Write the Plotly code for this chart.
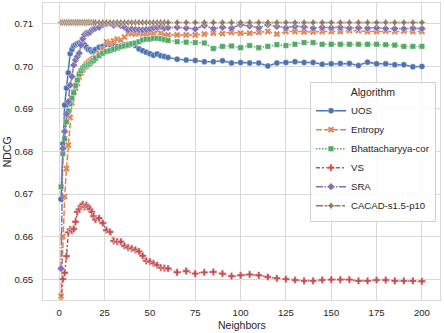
import plotly.graph_objects as go

neighbors = list(range(1, 21)) + list(range(22, 61, 2)) + list(range(65, 201, 5))

uos = [0.6688, 0.6818, 0.6909, 0.6949, 0.6985, 0.7030, 0.7040, 0.7048, 0.7051, 0.7053,
       0.7055, 0.7055, 0.7054, 0.7050, 0.7045, 0.7040, 0.7039, 0.7035, 0.7036, 0.7040,
       0.7045, 0.7047, 0.7052, 0.7051, 0.7050, 0.7047, 0.7048, 0.7050, 0.7052, 0.7053,
       0.7049, 0.7041, 0.7037, 0.7033, 0.7030, 0.7026, 0.7029, 0.7025, 0.7023, 0.7021,
       0.7017, 0.7015, 0.7014, 0.7011, 0.7011, 0.7013, 0.7008, 0.7009, 0.7008, 0.7008,
       0.7001, 0.7008, 0.7009, 0.7011, 0.7009, 0.7009, 0.7005, 0.7006, 0.7007, 0.7007,
       0.7002, 0.7010, 0.7006, 0.7006, 0.7004, 0.7004, 0.6999, 0.7000]

entropy = [0.6460, 0.6600, 0.6694, 0.6760, 0.6815, 0.6880, 0.6915, 0.6940, 0.6949, 0.6960,
           0.6975, 0.6985, 0.6992, 0.6998, 0.7005, 0.7009, 0.7013, 0.7016, 0.7019, 0.7022,
           0.7031, 0.7040, 0.7058, 0.7055, 0.7060, 0.7064, 0.7062, 0.7069, 0.7077, 0.7077,
           0.7076, 0.7078, 0.7076, 0.7075, 0.7077, 0.7078, 0.7084, 0.7078, 0.7074, 0.7074,
           0.7074, 0.7074, 0.7074, 0.7076, 0.7078, 0.7077, 0.7080, 0.7078, 0.7078, 0.7080,
           0.7082, 0.7076, 0.7082, 0.7082, 0.7081, 0.7081, 0.7082, 0.7082, 0.7082, 0.7084,
           0.7084, 0.7082, 0.7082, 0.7083, 0.7082, 0.7083, 0.7082, 0.7082]

bhatt = [0.6717, 0.6795, 0.6830, 0.6870, 0.6895, 0.6912, 0.6926, 0.6938, 0.6955, 0.6968,
         0.6982, 0.6990, 0.6996, 0.7000, 0.7001, 0.7004, 0.7007, 0.7011, 0.7014, 0.7019,
         0.7025, 0.7031, 0.7035, 0.7037, 0.7040, 0.7043, 0.7046, 0.7048, 0.7050, 0.7053,
         0.7055, 0.7058, 0.7062, 0.7064, 0.7064, 0.7066, 0.7066, 0.7065, 0.7063, 0.7061,
         0.7058, 0.7057, 0.7056, 0.7055, 0.7042, 0.7047, 0.7048, 0.7044, 0.7049, 0.7044,
         0.7047, 0.7051, 0.7049, 0.7052, 0.7056, 0.7056, 0.7052, 0.7052, 0.7052, 0.7052,
         0.7052, 0.7052, 0.7052, 0.7051, 0.7050, 0.7047, 0.7047, 0.7047]

vs = [0.6445, 0.6500, 0.6515, 0.6554, 0.6610, 0.6617, 0.6614, 0.6618, 0.6635, 0.6658,
      0.6664, 0.6672, 0.6676, 0.6670, 0.6674, 0.6669, 0.6665, 0.6658, 0.6648, 0.6640,
      0.6643, 0.6632, 0.6615, 0.6611, 0.6590, 0.6588, 0.6588, 0.6578, 0.6574, 0.6572,
      0.6569, 0.6565, 0.6555, 0.6543, 0.6541, 0.6537, 0.6533, 0.6527, 0.6526, 0.6525,
      0.6516, 0.6519, 0.6513, 0.6516, 0.6517, 0.6513, 0.6507, 0.6509, 0.6511, 0.6509,
      0.6505, 0.6502, 0.6500, 0.6498, 0.6496, 0.6496, 0.6498, 0.6499, 0.6499, 0.6499,
      0.6496, 0.6496, 0.6498, 0.6498, 0.6496, 0.6496, 0.6496, 0.6495]

sra = [0.6525, 0.6807, 0.6847, 0.6888, 0.6917, 0.6956, 0.6976, 0.7003, 0.7015, 0.7023,
       0.7031, 0.7050, 0.7065, 0.7075, 0.7078, 0.7078, 0.7080, 0.7086, 0.7088, 0.7090,
       0.7092, 0.7098, 0.7100, 0.7101, 0.7097, 0.7100, 0.7096, 0.7092, 0.7086, 0.7088,
       0.7087, 0.7086, 0.7086, 0.7087, 0.7088, 0.7091, 0.7092, 0.7094, 0.7090, 0.7091,
       0.7092, 0.7090, 0.7088, 0.7096, 0.7089, 0.7092, 0.7090, 0.7098, 0.7095, 0.7091,
       0.7098, 0.7094, 0.7091, 0.7094, 0.7093, 0.7090, 0.7092, 0.7091, 0.7092, 0.7090,
       0.7091, 0.7090, 0.7091, 0.7089, 0.7089, 0.7089, 0.7090, 0.7089]

cacad = [0.7103] * len(neighbors)

series_names = ["UOS", "Entropy", "Bhattacharyya-cor", "VS", "SRA", "CACAD-s1.5-p10"]
series_values = [uos, entropy, bhatt, vs, sra, cacad]
colors = ["#4c72b0", "#dd8452", "#55a868", "#c44e52", "#8172b3", "#937860"]
symbols = ["circle", "x", "square", "cross", "diamond", "star-diamond"]
dashes = ["solid", "6px,2px", "1.5px,1.5px", "4px,2px,2px,2px", "7px,1.5px,1.5px,1.5px",
          "7px,1.5px,3px,1.5px,3px,1.5px"]
sizes = [6, 6, 5.5, 6, 6, 6]

font_family = "Liberation Sans, Arial, sans-serif"
text_color = "#262626"
fig = go.Figure()
for name, vals, c, s, d, sz in zip(series_names, series_values, colors, symbols, dashes, sizes):
    fig.add_trace(go.Scatter(
        x=neighbors, y=vals, name=name, mode="lines+markers",
        line=dict(color=c, width=1.5, dash=d),
        marker=dict(symbol=s, size=sz, color=c, line=dict(color="white", width=0.4)),
    ))

axis_common = dict(
    showgrid=True, gridcolor="#d9d9d9", gridwidth=1,
    showline=True, linecolor="#d9d9d9", linewidth=1, mirror=True,
    zeroline=False, ticks="", automargin=False,
    tickfont=dict(size=9.6, color=text_color, family=font_family),
)
fig.update_xaxes(range=[-8.95, 209.95], tickvals=[0, 25, 50, 75, 100, 125, 150, 175, 200],
                 ticklabelstandoff=3, **axis_common)
fig.update_yaxes(range=[0.6451, 0.7149], tick0=0.65, dtick=0.01, tickformat=".2f",
                 ticklabelstandoff=7, **axis_common)

fig.update_layout(
    width=444, height=333,
    margin=dict(l=43, r=4, t=3, b=33),
    paper_bgcolor="white", plot_bgcolor="white",
    font=dict(family=font_family, color=text_color),
    legend=dict(
        x=0.99, y=0.50, xanchor="right", yanchor="middle",
        bgcolor="rgba(255,255,255,0.85)", bordercolor="#d0d0d0", borderwidth=1,
        font=dict(size=9.6, color=text_color),
        title=dict(text="Algorithm", side="top center", font=dict(size=10.5)),
        itemwidth=30, tracegroupgap=0,
    ),
    annotations=[
        dict(text="Neighbors", xref="paper", yref="paper", x=0.5, y=-0.084,
             xanchor="center", yanchor="middle", showarrow=False,
             font=dict(size=10.5, color=text_color)),
        dict(text="NDCG", xref="paper", yref="paper", x=-0.091, y=0.5, textangle=-90,
             xanchor="center", yanchor="middle", showarrow=False,
             font=dict(size=10.5, color=text_color)),
    ],
)

fig.write_html("out.html", config={"displayModeBar": False},
               post_script="document.body.style.margin='0';")
